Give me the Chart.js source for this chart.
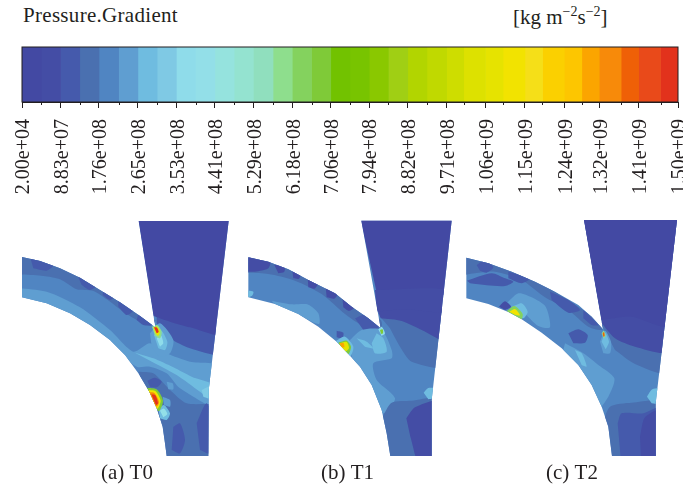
<!DOCTYPE html>
<html>
<head>
<meta charset="utf-8">
<title>Pressure.Gradient</title>
<script src="https://cdn.jsdelivr.net/npm/chart.js@4"></script>
<style>
    html, body { margin: 0; padding: 0; background: #fff; overflow: hidden; width: 683px; height: 487px; }
    body { position: relative; font-family: "Liberation Serif", serif; color: #231f20; }
    canvas { position: absolute; }
    .label { position: absolute; font-size: 21px; line-height: 24px; white-space: nowrap; }
    sup { font-size: 14px; line-height: 0; }
    .panel { filter: blur(0.6px); }
</style>
</head>
<body>
<div class="label" style="left:23px; top:3px; letter-spacing:0.3px">Pressure.Gradient</div>
<div class="label" style="left:513px; top:5px">[kg m<sup>−2</sup>s<sup>−2</sup>]</div>
<canvas id="barChart" width="683" height="200" style="left:0; top:0"></canvas>
<canvas id="t0Chart" class="panel" width="234" height="277" style="left:10px; top:210px"></canvas>
<canvas id="t1Chart" class="panel" width="225" height="277" style="left:235px; top:210px"></canvas>
<canvas id="t2Chart" class="panel" width="234" height="277" style="left:455px; top:210px"></canvas>
<script>
// Colour bar
const bandEdges = [2.00e4, 4.42e7, 8.83e7, 1.32e8, 1.76e8, 2.21e8, 2.65e8, 3.09e8, 3.53e8, 3.97e8, 4.41e8, 4.85e8,
    5.29e8, 5.74e8, 6.18e8, 6.62e8, 7.06e8, 7.50e8, 7.94e8, 8.38e8, 8.82e8, 9.26e8, 9.71e8, 1.01e9, 1.06e9, 1.10e9,
    1.15e9, 1.19e9, 1.24e9, 1.28e9, 1.32e9, 1.37e9, 1.41e9, 1.46e9, 1.50e9];
const bandColors = ['#4349a3', '#444da5', '#455aac', '#4a70b0', '#5085c2', '#5f9ed1', '#6fbce0', '#7fc9e4', '#8fdcea',
    '#93dfe8', '#95e3de', '#94e3d0', '#90dfbe', '#8ede8d', '#84d25e', '#7fca38', '#72c200', '#78c400', '#8ac800',
    '#a0cf14', '#b2d500', '#c0d900', '#cedd00', '#dde100', '#e6e300', '#f2e300', '#f5df18', '#fbd000', '#fdc600',
    '#fba500', '#f78a0a', '#ef6007', '#e94a1a', '#e2321c'];
const tickValues = [2.00e4, 8.83e7, 1.76e8, 2.65e8, 3.53e8, 4.41e8, 5.29e8, 6.18e8, 7.06e8, 7.94e8, 8.82e8, 9.71e8,
    1.06e9, 1.15e9, 1.24e9, 1.32e9, 1.41e9, 1.50e9];
const tickLabels = ['2.00e+04', '8.83e+07', '1.76e+08', '2.65e+08', '3.53e+08', '4.41e+08', '5.29e+08', '6.18e+08',
    '7.06e+08', '7.94e+08', '8.82e+08', '9.71e+08', '1.06e+09', '1.15e+09', '1.24e+09', '1.32e+09', '1.41e+09', '1.50e+09'];

// Contour regions: [colour band, outline points]. Later regions sit on top.
const t0Outline = [[386,33],[656,33],[596,540],[595,738],[470,738],[465,700],[458,650],[441,597],[418,545],[385,490],
    [345,435],[300,390],[240,345],[180,310],[110,280],[36,262],[36,141],[90,153],[150,175],[210,203],[270,240],[330,277],
    [390,318],[436,352]];
const t0Regions = [
    [4, [[0,0],[700,0],[700,800],[0,800]]],
    [3, [[0,100],[120,130],[436,330],[420,348],[350,312],[290,268],[250,243],[200,238],[150,208],[100,198],[0,192]]],
    [2, [[60,140],[130,165],[110,182],[70,175]]],
    [2, [[200,190],[260,225],[240,240],[215,225]]],
    [2, [[280,235],[315,258],[300,270],[278,255]]],
    [2, [[325,268],[370,300],[350,315],[325,290]]],
    [2, [[385,312],[425,345],[400,345],[380,330]]],
    [5, [[0,232],[110,245],[210,292],[300,360],[370,425],[420,400],[470,430],[540,455],[640,470],[640,600],[510,535],
        [470,490],[420,470],[380,470],[300,410],[150,320],[0,290]]],
    [3, [[385,485],[430,490],[480,540],[530,580],[640,592],[640,780],[440,780],[410,560]]],
    [2, [[490,650],[510,640],[525,690],[510,730],[485,720]]],
    [2, [[560,640],[590,580],[620,660],[600,730],[570,720]]],
    [2, [[412,512],[435,503],[455,515],[440,532],[420,530]]],
    [6, [[375,428],[430,445],[490,472],[545,500],[610,525],[610,570],[570,545],[500,495],[420,452]]],
    [7, [[575,540],[600,530],[600,565],[580,560]]],
    [5, [[470,515],[488,520],[490,538],[475,538]]],
    [2, [[440,340],[480,385],[540,415],[640,435],[640,362],[540,345],[440,320]]],
    [0, [[380,0],[680,0],[640,370],[540,352],[480,335],[430,318]]],
    [5, [[420,370],[450,340],[490,390],[480,430],[450,440],[425,410]]],
    [6, [[432,375],[452,360],[472,395],[465,420],[445,415]]],
    [8, [[440,385],[452,375],[460,400],[450,410]]],
    [13, [[426,350],[442,345],[455,365],[450,385],[435,378]]],
    [24, [[430,352],[442,350],[450,366],[444,378],[436,370]]],
    [33, [[432,352],[441,353],[446,366],[440,370]]],
    [6, [[445,595],[462,585],[480,610],[470,630],[450,625]]],
    [9, [[450,602],[462,596],[472,612],[460,622]]],
    [5, [[458,560],[480,570],[480,590],[462,585]]],
    [15, [[410,533],[440,538],[459,572],[447,603],[428,590]]],
    [25, [[414,540],[436,543],[452,572],[442,596],[424,575]]],
    [30, [[418,546],[433,549],[447,576],[440,590],[424,570]]],
    [33, [[424,553],[436,556],[444,580],[438,586]]]
];

const t1Outline = [[379,32],[650,32],[590,570],[590,738],[466,738],[455,670],[440,600],[410,525],[375,470],[340,432],
    [305,395],[250,350],[190,312],[120,282],[40,262],[40,142],[100,155],[160,178],[220,210],[300,250],[350,290],[400,325],[437,355]];
const t1Regions = [
    [4, [[0,0],[700,0],[700,800],[0,800]]],
    [3, [[0,100],[120,120],[437,330],[437,360],[380,345],[330,312],[260,252],[180,212],[100,192],[0,187]]],
    [1, [[20,120],[105,150],[100,175],[60,185],[20,185]]],
    [1, [[118,165],[148,165],[148,185],[130,190]]],
    [1, [[172,182],[198,190],[192,206],[175,205]]],
    [1, [[218,205],[248,222],[238,236],[220,232]]],
    [1, [[272,232],[308,250],[298,266],[275,262]]],
    [1, [[322,262],[358,292],[342,303],[325,292]]],
    [2, [[360,325],[395,312],[432,345],[420,362],[385,360]]],
    [2, [[305,362],[325,368],[322,385],[305,382]]],
    [5, [[110,272],[170,283],[220,284],[250,310],[252,342],[200,320],[130,295]]],
    [6, [[20,240],[55,245],[50,258],[20,265]]],
    [5, [[345,390],[380,360],[440,360],[470,420],[470,445],[415,460],[425,510],[480,565],[445,610],[400,530],[350,440]]],
    [6, [[365,385],[395,395],[415,415],[390,410]]],
    [6, [[425,370],[445,385],[455,425],[420,430],[410,400]]],
    [3, [[437,322],[640,300],[640,470],[530,455],[495,410],[465,355]]],
    [1, [[425,295],[640,295],[640,395],[560,360],[500,333],[437,325]]],
    [0, [[370,0],[660,0],[640,247],[425,247]]],
    [1, [[420,240],[640,240],[640,305],[510,298],[425,305]]],
    [3, [[440,625],[470,578],[530,572],[620,568],[620,780],[440,780]]],
    [1, [[514,625],[540,592],[610,575],[610,780],[558,780],[526,680]]],
    [6, [[566,548],[580,534],[610,538],[610,562],[580,568]]],
    [6, [[300,395],[330,380],[355,410],[345,440],[320,430]]],
    [15, [[310,398],[335,392],[348,410],[340,432],[322,420]]],
    [24, [[313,400],[335,396],[342,414],[332,424],[322,415]]],
    [29, [[314,400],[326,400],[328,412],[320,412]]],
    [8, [[430,358],[440,350],[450,370],[440,378]]],
    [15, [[435,360],[443,358],[444,370],[438,372]]]
];

const t2Outline = [[387,30],[666,30],[602,580],[602,738],[471,738],[460,650],[440,590],[410,525],[370,465],[320,415],
    [260,368],[200,328],[160,306],[100,282],[34,265],[34,143],[100,160],[170,185],[240,215],[300,245],[370,285],[410,320],[444,358]];
const t2Regions = [
    [4, [[0,0],[700,0],[700,800],[0,800]]],
    [3, [[0,120],[120,140],[444,340],[440,360],[400,350],[340,300],[270,262],[200,210],[120,185],[60,190],[0,200]]],
    [2, [[65,165],[90,150],[115,172],[95,188],[75,182]]],
    [2, [[36,212],[110,190],[150,205],[175,215],[150,228],[95,226],[45,220]]],
    [2, [[160,185],[225,205],[200,220],[160,205]]],
    [2, [[285,245],[340,270],[375,300],[340,308],[290,270]]],
    [2, [[385,300],[430,345],[410,345],[385,325]]],
    [2, [[340,370],[370,358],[398,375],[390,398],[355,400]]],
    [5, [[150,285],[190,250],[230,262],[272,290],[285,352],[250,348],[205,305]]],
    [6, [[172,290],[200,280],[218,305],[205,325],[185,315]]],
    [1, [[132,290],[150,274],[168,290],[150,300]]],
    [14, [[155,303],[178,288],[203,312],[198,330],[178,320]]],
    [25, [[163,305],[180,297],[195,316],[180,314]]],
    [5, [[330,400],[385,430],[430,465],[478,505],[460,560],[425,600],[380,520],[320,440]]],
    [6, [[360,420],[380,430],[395,470],[380,465]]],
    [3, [[440,345],[640,340],[640,490],[540,462],[480,420]]],
    [1, [[380,0],[680,0],[640,422],[540,410],[480,385],[440,340]]],
    [0, [[380,0],[680,0],[640,345],[530,320],[440,330]]],
    [5, [[435,395],[450,362],[468,395],[465,430],[445,430]]],
    [6, [[440,395],[450,368],[462,395],[452,418]]],
    [13, [[440,370],[446,362],[452,376],[447,386]]],
    [31, [[443,370],[447,366],[449,378],[445,380]]],
    [3, [[440,650],[465,590],[530,578],[625,578],[625,780],[440,780]]],
    [2, [[488,640],[500,610],[565,610],[625,590],[625,780],[500,780]]],
    [1, [[555,680],[570,622],[625,598],[625,780],[560,780]]],
    [6, [[576,560],[592,538],[625,538],[625,582],[590,580]]]
];

const panelCaptions = ['(a) T0', '(b) T1', '(c) T2'];

// Ticks without labels halfway between the labelled ones, plus the frame round the bar
const barFrame = {
    id: 'barFrame',
    afterDraw(chart) {
        const { ctx, chartArea, scales } = chart;
        ctx.save();
        ctx.strokeStyle = '#231f20';
        ctx.lineWidth = 1;
        bandEdges.forEach((edge, i) => {
            if (i % 2 === 1) {
                const x = Math.round(scales.x.getPixelForValue(edge)) + 0.5;
                ctx.beginPath();
                ctx.moveTo(x, chartArea.bottom);
                ctx.lineTo(x, chartArea.bottom + 3);
                ctx.stroke();
            }
        });
        ctx.strokeRect(chartArea.left, chartArea.top, chartArea.width, chartArea.height);
        ctx.restore();
    }
};

new Chart(document.getElementById('barChart'), {
    type: 'bar',
    plugins: [barFrame],
    data: {
        labels: ['Pressure.Gradient'],
        datasets: bandColors.map((color, i) => ({
            data: [[bandEdges[i], bandEdges[i + 1]]],
            backgroundColor: color,
            borderWidth: 0,
            grouped: false,
            categoryPercentage: 1,
            barPercentage: 1
        }))
    },
    options: {
        indexAxis: 'y',
        responsive: false,
        animation: false,
        layout: { padding: { left: 22, right: 5, top: 47, bottom: 0 } },
        plugins: { legend: { display: false }, tooltip: { enabled: false } },
        scales: {
            x: {
                type: 'linear',
                min: bandEdges[0],
                max: bandEdges[bandEdges.length - 1],
                afterBuildTicks: scale => { scale.ticks = tickValues.map(value => ({ value })); },
                afterFit: scale => { scale.height = 98; scale.paddingLeft = 0; scale.paddingRight = 0; },
                grid: { drawOnChartArea: false, tickLength: 6, tickColor: '#231f20' },
                border: { color: '#231f20' },
                ticks: {
                    callback: (value, index) => tickLabels[index],
                    autoSkip: false,
                    minRotation: 90,
                    maxRotation: 90,
                    padding: 11,
                    labelOffset: 2,
                    color: '#231f20',
                    font: { family: '"Liberation Serif", serif', size: 20 }
                }
            },
            y: { display: false }
        }
    }
});

// Everything in a panel is clipped to the duct outline
const outlineClip = {
    id: 'outlineClip',
    beforeDatasetsDraw(chart, args, opts) {
        const { ctx, scales } = chart;
        ctx.save();
        ctx.beginPath();
        opts.outline.forEach(p => ctx.lineTo(scales.x.getPixelForValue(p[0]), scales.y.getPixelForValue(p[1])));
        ctx.closePath();
        ctx.clip();
    },
    afterDatasetsDraw(chart) {
        chart.ctx.restore();
    }
};

function makePanel(id, caption, outline, regions, xMax) {
    // chart.js paints the first dataset last, so flip the list
    const datasets = regions.slice().reverse().map(region => ({
        data: region[1].map(p => ({ x: p[0], y: p[1] })),
        showLine: true,
        fill: 'shape',
        tension: 0.25,
        backgroundColor: bandColors[region[0]],
        borderWidth: 0,
        pointRadius: 0
    }));
    return new Chart(document.getElementById(id), {
        type: 'scatter',
        plugins: [outlineClip],
        data: { datasets },
        options: {
            responsive: false,
            animation: false,
            layout: { padding: 0 },
            plugins: {
                legend: { display: false },
                tooltip: { enabled: false },
                outlineClip: { outline },
                title: {
                    display: true,
                    text: caption,
                    position: 'bottom',
                    color: '#231f20',
                    padding: { top: 1, bottom: 0.8 },
                    font: { family: '"Liberation Serif", serif', size: 21, weight: 'normal', lineHeight: 1.2 }
                }
            },
            scales: {
                x: { display: false, min: 0, max: xMax },
                y: { display: false, reverse: true, min: 0, max: 750 }
            }
        }
    });
}

makePanel('t0Chart', panelCaptions[0], t0Outline, t0Regions, 702);
makePanel('t1Chart', panelCaptions[1], t1Outline, t1Regions, 675);
makePanel('t2Chart', panelCaptions[2], t2Outline, t2Regions, 702);
</script>
</body>
</html>
